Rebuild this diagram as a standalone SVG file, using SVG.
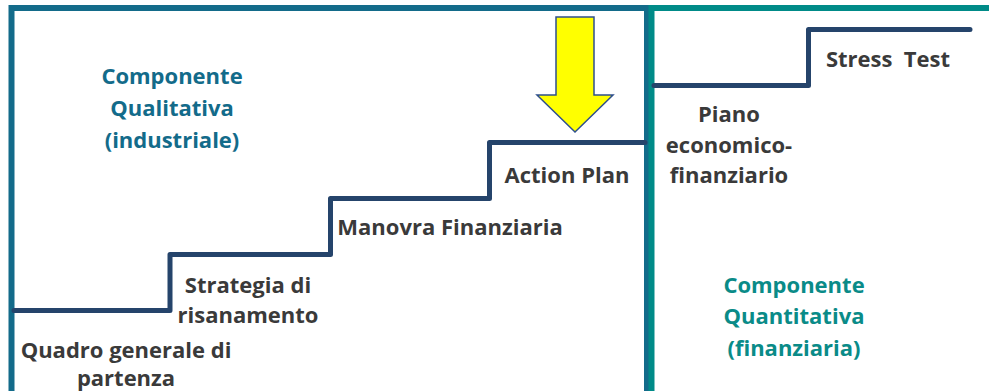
<svg xmlns="http://www.w3.org/2000/svg" width="989" height="391" viewBox="0 0 989 391">
<style>
.step{fill:none;stroke:#25446b;stroke-width:5;stroke-linejoin:round;stroke-linecap:round}
.lbl{font-family:"Open Sans","Liberation Sans",sans-serif;font-weight:700;font-size:22px;fill:#3a3a3a;text-anchor:middle}
.qual{fill:#136b8a}
.quan{fill:#0a8b88}
</style>
<rect width="989" height="391" fill="#ffffff"/>
<g id="frames">
<path d="M11.5,391 V8 H647 V391" fill="none" stroke="#136b8a" stroke-width="6"/>
<path d="M651.5,391 V8 H989" fill="none" stroke="#008b88" stroke-width="6"/>
</g>
<g id="connectors">
<path class="step" d="M14,310.5 H170 V254.5 H330.5 V198.5 H489.5 V142.5 H645"/>
<path class="step" d="M654,85.5 H808.5 V29.5 H970"/>
</g>
<g id="arrow">
<polygon points="556,17 594,17 594,95 613,95 575,132 537,95 556,95" fill="#ffff00" stroke="#2e4f8c" stroke-width="1.5" stroke-linejoin="miter"/>
</g>
<g id="componente-qualitativa">
<text class="lbl qual" x="172" y="84">Componente</text>
<text class="lbl qual" x="172" y="116">Qualitativa</text>
<text class="lbl qual" x="172" y="148">(industriale)</text>
</g>
<g id="quadro-generale">
<text class="lbl" x="126" y="358">Quadro generale di</text>
<text class="lbl" x="126" y="386">partenza</text>
</g>
<g id="strategia">
<text class="lbl" x="248" y="293">Strategia di</text>
<text class="lbl" x="248" y="323">risanamento</text>
</g>
<g id="manovra">
<text class="lbl" x="450" y="235">Manovra Finanziaria</text>
</g>
<g id="action-plan">
<text class="lbl" x="567" y="183">Action Plan</text>
</g>
<g id="piano">
<text class="lbl" x="729" y="122">Piano</text>
<text class="lbl" x="729" y="153">economico-</text>
<text class="lbl" x="729" y="183">finanziario</text>
</g>
<g id="stress-test">
<text class="lbl" x="888" y="67" xml:space="preserve">Stress  Test</text>
</g>
<g id="componente-quantitativa">
<text class="lbl quan" x="794" y="293">Componente</text>
<text class="lbl quan" x="794" y="324">Quantitativa</text>
<text class="lbl quan" x="794" y="356">(finanziaria)</text>
</g>
</svg>
